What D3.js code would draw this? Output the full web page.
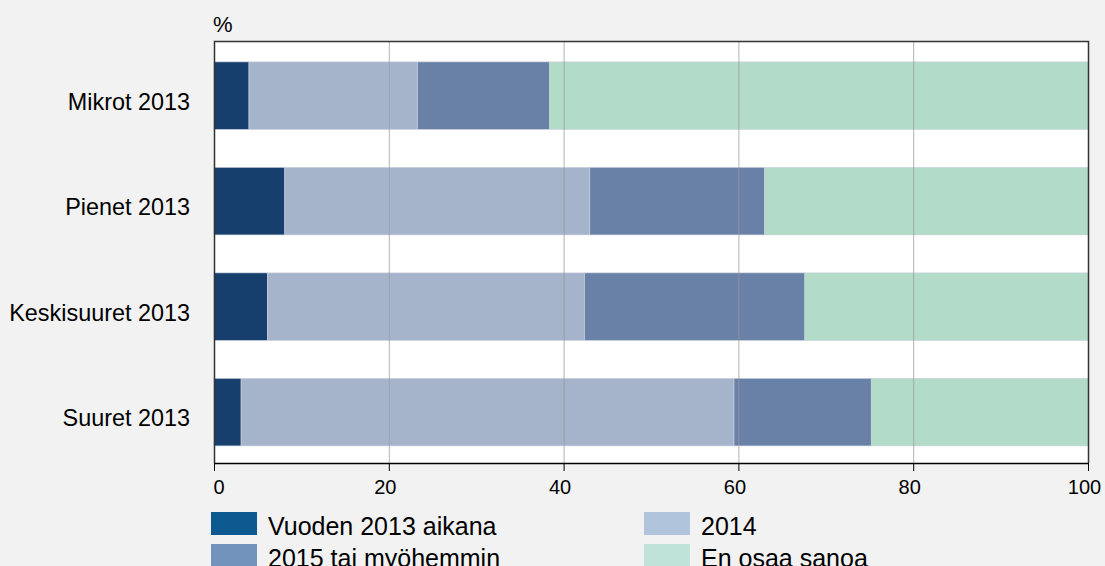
<!DOCTYPE html>
<html><head><meta charset="utf-8">
<script src="https://cdn.jsdelivr.net/npm/d3@7"></script>
<style>
html,body{margin:0;padding:0;background:#f2f2f2;overflow:hidden;}
svg{display:block;font-family:"Liberation Sans",Arial,sans-serif;}
</style></head>
<body><svg id="chart" width="1105" height="566"></svg>
<script>
const categories = ["Mikrot 2013", "Pienet 2013", "Keskisuuret 2013", "Suuret 2013"];
const seriesNames = ["Vuoden 2013 aikana", "2014", "2015 tai myöhemmin", "En osaa sanoa"];
const vuoden2013 = [4.0, 8.1, 6.1, 3.1];
const v2014 = [19.3, 34.9, 36.3, 56.4];
const v2015 = [15.1, 20.0, 25.2, 15.7];
const enOsaa = [61.6, 37.0, 32.4, 24.8];
const xTicks = [0, 20, 40, 60, 80, 100];

const barColors = ["#173f6e", "#a6b4cb", "#6980a7", "#b2dcc8"];
const legendColors = ["#0d5a90", "#b0c4dc", "#7294bc", "#bfe3d8"];

const svg = d3.select("#chart");
const m = {left: 214, right: 1088, top: 41, bottom: 463};

const x = d3.scaleLinear().domain([0, 100]).range([m.left, m.right]);
const y = d3.scaleBand().domain(categories).range([m.top, m.bottom])
  .paddingInner(0.36).paddingOuter(0.18).align(0.55);

const rows = categories.map((c, i) => ({cat: c, vals: [vuoden2013[i], v2014[i], v2015[i], enOsaa[i]]}));
const keys = [0, 1, 2, 3];
const stacked = d3.stack().keys(keys).value((d, k) => d.vals[k])(rows);

// plot area
svg.append("rect").attr("x", m.left).attr("y", m.top)
  .attr("width", m.right - m.left).attr("height", m.bottom - m.top).attr("fill", "#fff");

// stacked bars
svg.append("g").selectAll("g").data(stacked).join("g")
  .attr("fill", (d, i) => barColors[i])
  .selectAll("rect").data(d => d).join("rect")
  .attr("x", d => x(d[0]))
  .attr("width", d => x(Math.min(d[1], 100)) - x(d[0]))
  .attr("y", d => y(d.data.cat))
  .attr("height", y.bandwidth())
  .attr("stroke", "#c8d0dc").attr("stroke-width", 0.6);

// vertical gridlines
svg.append("g").selectAll("line").data(xTicks.slice(1, -1)).join("line")
  .attr("x1", d => x(d) + 0.5).attr("x2", d => x(d) + 0.5)
  .attr("y1", m.top).attr("y2", m.bottom)
  .attr("stroke", "#999").attr("stroke-opacity", 0.75).attr("stroke-width", 1);

// frame
svg.append("path")
  .attr("d", `M${m.left + 0.5},${m.bottom}V${m.top + 0.5}H${m.right + 0.5}V${m.bottom}`)
  .attr("fill", "none").attr("stroke", "#333").attr("stroke-width", 1.5);

// x axis
const xAxis = svg.append("g").attr("transform", `translate(0,${m.bottom})`)
  .call(d3.axisBottom(x).tickValues(xTicks).tickSize(8).tickSizeOuter(0));
xAxis.select(".domain").attr("stroke", "#000").attr("stroke-width", 1.3);
xAxis.selectAll(".tick line").attr("stroke", "#000");
xAxis.selectAll("text")
  .attr("font-size", 20).attr("fill", "#000")
  .attr("font-family", "'Liberation Sans',Arial,sans-serif")
  .attr("y", 31).attr("dy", null)
  .attr("text-anchor", d => d === 0 ? "start" : "middle")
  .attr("dx", d => d === 0 ? -1 : -4);

// category labels
svg.append("g").selectAll("text").data(categories).join("text")
  .attr("x", 190).attr("y", d => y(d) + y.bandwidth() / 2)
  .attr("dy", "0.6em").attr("text-anchor", "end")
  .attr("font-size", 23.4).attr("fill", "#000").text(d => d);

// unit label
svg.append("text").attr("x", 213).attr("y", 32).attr("font-size", 22).attr("fill", "#000").text("%");

// legend
const legPos = [[211, 512], [644, 512], [211, 544], [644, 544]];
const leg = svg.append("g").selectAll("g").data(seriesNames).join("g")
  .attr("transform", (d, i) => `translate(${legPos[i][0]},${legPos[i][1]})`);
leg.append("rect").attr("width", 46).attr("height", 23).attr("fill", (d, i) => legendColors[i]);
leg.append("text").attr("x", 57).attr("y", 22.5).attr("font-size", 25).attr("fill", "#000").text(d => d);
</script></body></html>
